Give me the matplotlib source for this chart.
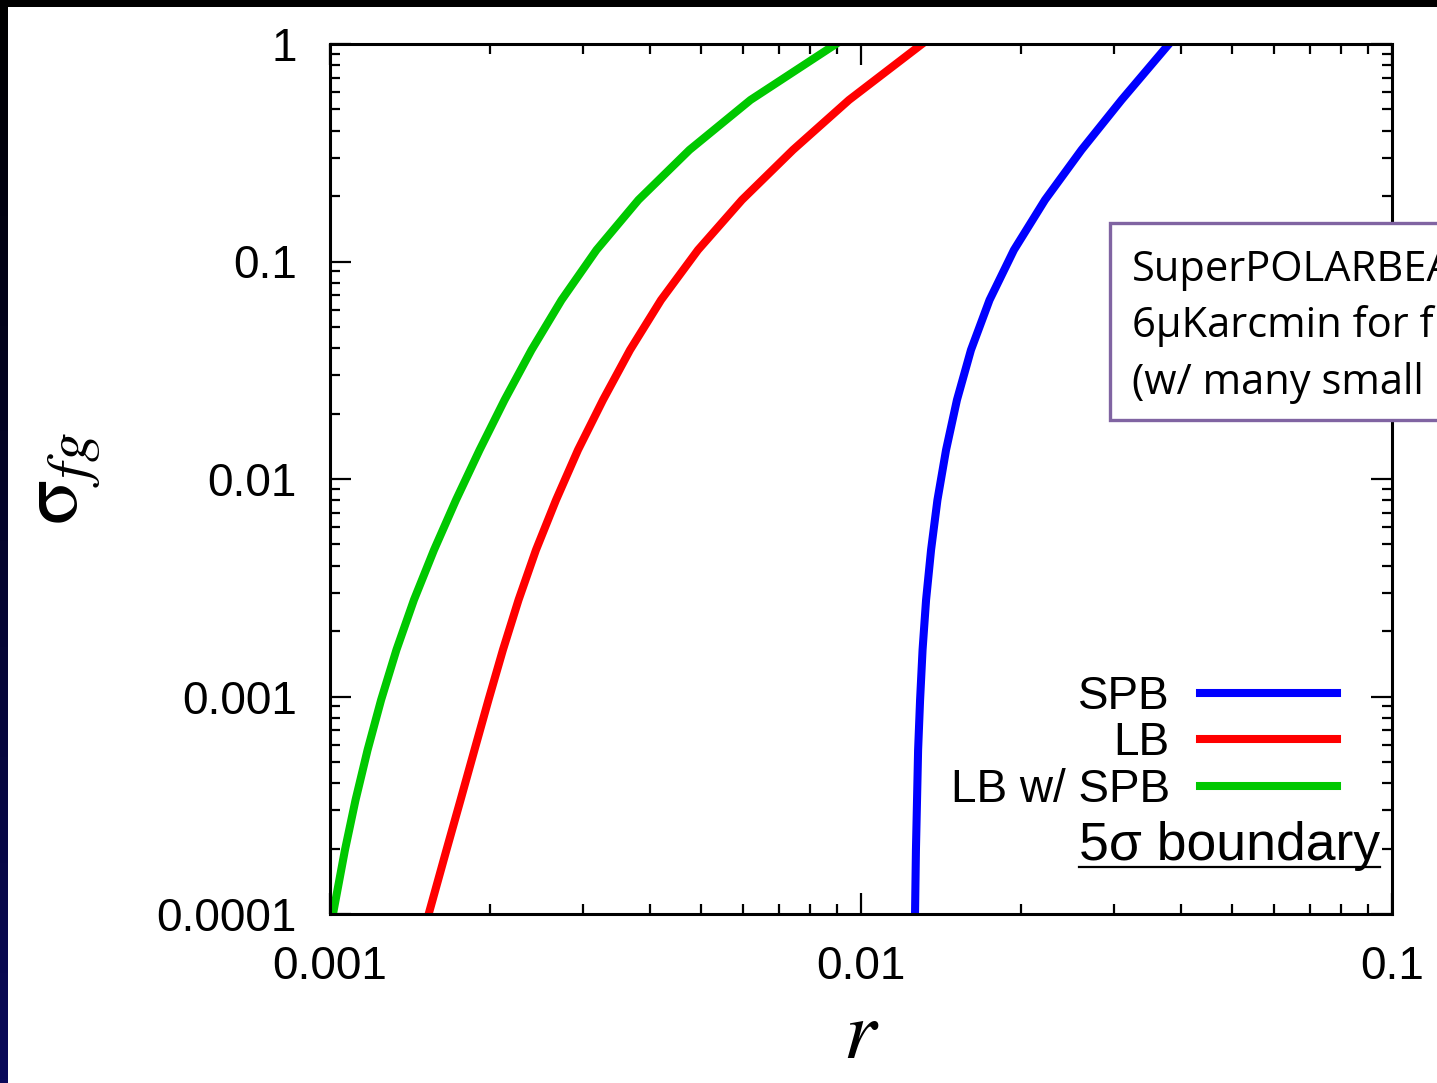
import matplotlib
matplotlib.use("Agg")
import matplotlib.pyplot as plt
import numpy as np
from matplotlib.patches import Rectangle
from matplotlib.lines import Line2D
from matplotlib.ticker import NullFormatter
from matplotlib.transforms import IdentityTransform
from matplotlib.colors import LinearSegmentedColormap

# sigma_fg levels (y) and where each 5-sigma boundary crosses them in r (x)
sigma_fg = [1.0e-4, 1.97e-4, 3.34e-4, 5.68e-4, 9.64e-4, 1.64e-3, 2.78e-3, 4.72e-3, 8.01e-3,
            1.36e-2, 2.31e-2, 3.92e-2, 6.65e-2, 0.113, 0.192, 0.326, 0.553, 1.0]
r_spb = [1.264e-2, 1.269e-2, 1.275e-2, 1.281e-2, 1.292e-2, 1.306e-2, 1.326e-2, 1.355e-2, 1.393e-2,
         1.446e-2, 1.516e-2, 1.611e-2, 1.746e-2, 1.941e-2, 2.221e-2, 2.602e-2, 3.095e-2, 3.802e-2]
r_lb = [1.534e-3, 1.657e-3, 1.761e-3, 1.871e-3, 1.988e-3, 2.117e-3, 2.265e-3, 2.443e-3, 2.665e-3,
        2.931e-3, 3.267e-3, 3.673e-3, 4.201e-3, 4.932e-3, 5.969e-3, 7.447e-3, 9.494e-3, 1.303e-2]
r_lbspb = [1.013e-3, 1.067e-3, 1.117e-3, 1.177e-3, 1.248e-3, 1.334e-3, 1.439e-3, 1.570e-3, 1.727e-3,
           1.913e-3, 2.132e-3, 2.396e-3, 2.729e-3, 3.176e-3, 3.810e-3, 4.754e-3, 6.193e-3, 8.973e-3]

x_ticks = [0.001, 0.01, 0.1]
x_labels = ["0.001", "0.01", "0.1"]
y_ticks = [0.0001, 0.001, 0.01, 0.1, 1]
y_labels = ["0.0001", "0.001", "0.01", "0.1", "1"]

box_lines = ["SuperPOLARBEAR", "6\u03bcKarcmin for f", "(w/ many small p"]

plt.rcParams["font.family"] = ["Liberation Sans", "DejaVu Sans"]
plt.rcParams["mathtext.fontset"] = "stix"

W, H = 1437, 1083
fig = plt.figure(figsize=(W / 100, H / 100), dpi=100)
fig.patch.set_facecolor("white")

# slide frame: black strip on top, dark blue gradient on the left
fig.add_artist(Rectangle((0, 1 - 7 / H), 1, 7 / H, transform=fig.transFigure,
                         facecolor="black", edgecolor="none"))
gax = fig.add_axes([0, 0, 8 / W, 1])
cmap = LinearSegmentedColormap.from_list("frame", ["#000000", "#0a0a5a"])
gax.imshow(np.linspace(0, 1, 256)[:, None], cmap=cmap, aspect="auto")
gax.axis("off")

ax = fig.add_axes([330 / W, 1 - 914 / H, 1062 / W, 870 / H])
ax.plot(r_spb, sigma_fg, color="#0000ff", lw=5.8, label="SPB", solid_joinstyle="round")
ax.plot(r_lb, sigma_fg, color="#ff0000", lw=5.8, label="LB", solid_joinstyle="round")
ax.plot(r_lbspb, sigma_fg, color="#00c800", lw=5.8, label="LB w/ SPB", solid_joinstyle="round")

ax.set_xscale("log")
ax.set_yscale("log")
ax.set_xlim(1e-3, 0.1)
ax.set_ylim(1e-4, 1)
ax.set_xticks(x_ticks, x_labels)
ax.set_yticks(y_ticks, y_labels)
ax.xaxis.set_minor_formatter(NullFormatter())
ax.yaxis.set_minor_formatter(NullFormatter())
ax.tick_params(which="both", direction="in", top=True, right=True, width=1.6, color="black")
ax.tick_params(which="major", length=15, labelsize=33)
ax.tick_params(axis="x", which="major", pad=22)
ax.tick_params(axis="y", which="major", pad=24)
ax.tick_params(which="minor", length=7.5)
for s in ax.spines.values():
    s.set_linewidth(2.2)

ax.set_xlabel(r"$r$", fontsize=60)
ax.xaxis.set_label_coords(0.5, -0.095)
ax.set_ylabel(r"$\mathrm{\sigma}_{fg}$", fontsize=60)
ax.yaxis.set_label_coords(-0.214, 0.5)

ax.legend(loc="upper right", bbox_to_anchor=(1337 / W, 1 - 675 / H),
          bbox_transform=fig.transFigure, frameon=False, markerfirst=False,
          fontsize=33, handlelength=3.0, handletextpad=0.65, labelspacing=0.05,
          borderpad=0, borderaxespad=0)

# underlined caption under the legend
base_y = 1 - 860 / H
cap = fig.text(1380 / W, base_y, "5\u03c3 boundary", fontsize=38.5, ha="right", va="baseline")
fig.canvas.draw()
bb = cap.get_window_extent(fig.canvas.get_renderer())
uy = base_y * H - 7
fig.add_artist(Line2D([bb.x0, bb.x1], [uy, uy], transform=IdentityTransform(),
                      color="black", lw=1.6))

# purple text box, cut off by the right edge as in the slide
fig.add_artist(Rectangle((1110 / W, 1 - 420 / H), 400 / W, 197 / H, transform=fig.transFigure,
                         facecolor="white", edgecolor="#8064a2", lw=2.4, zorder=5))
for txt, by in zip(box_lines, [281, 337, 394]):
    fig.text(1132 / W, 1 - by / H, txt, fontsize=30, family="Open Sans",
             va="baseline", ha="left", zorder=6)

fig.savefig("out.png", dpi=100)
